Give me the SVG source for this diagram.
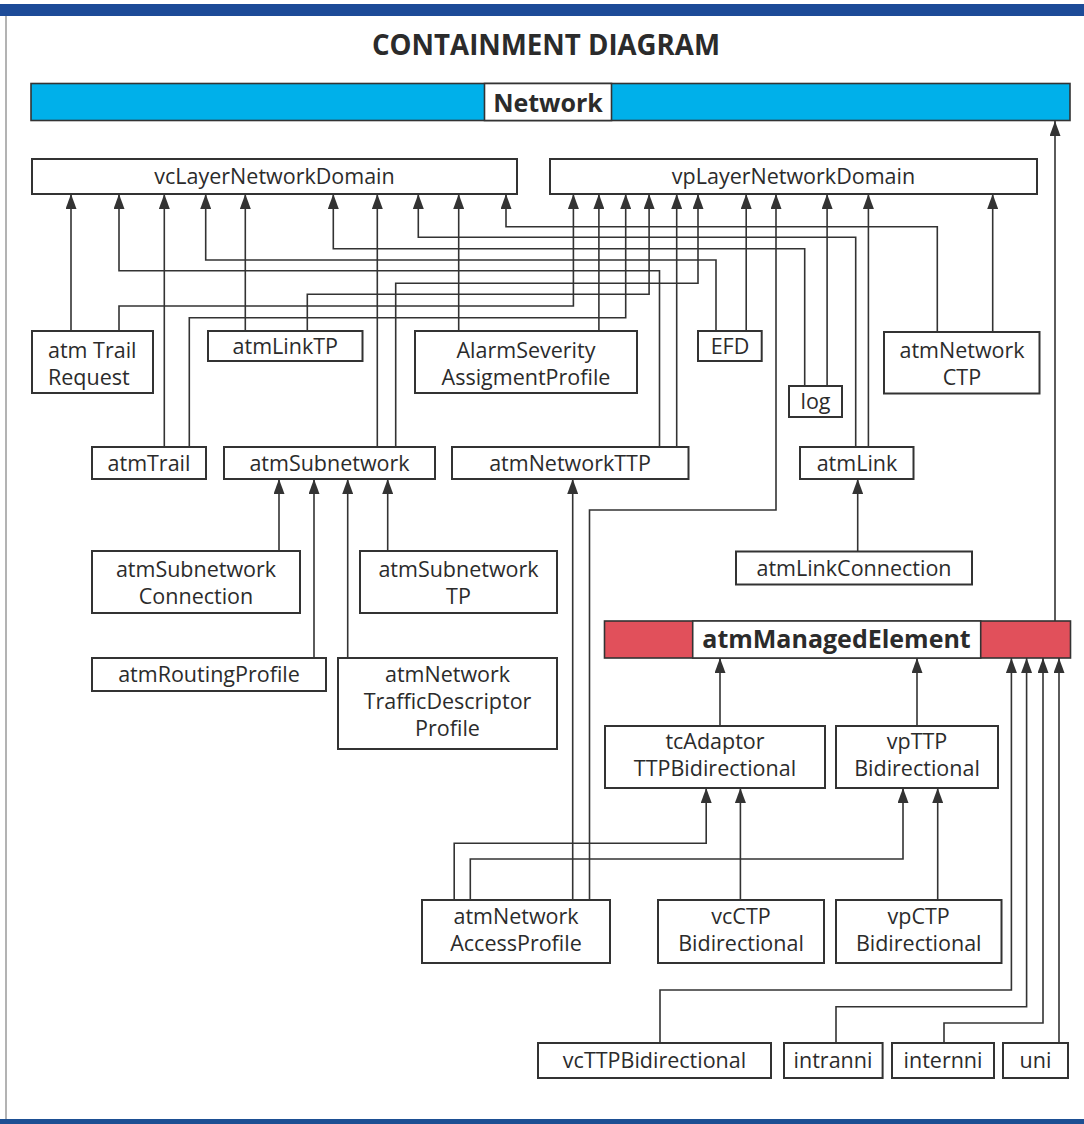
<svg xmlns="http://www.w3.org/2000/svg" width="1084" height="1124" viewBox="0 0 1084 1124">
<defs>
<style>
.box{fill:#fff;stroke:#333;stroke-width:2}
.t{font-family:"Open Sans","Noto Sans","Liberation Sans",sans-serif;font-size:21.5px;fill:#2b2b2b;text-anchor:middle}
.tl{text-anchor:start}
.b{font-weight:bold;font-size:25px}
.c{fill:none;stroke:#333;stroke-width:1.6;marker-end:url(#arr)}
.blue{fill:#00b0ea;stroke:#333;stroke-width:1.6}
.red{fill:#e1505b;stroke:#333;stroke-width:1.6}
</style>
<marker id="arr" viewBox="0 0 15 11" refX="15" refY="5.5" markerWidth="15" markerHeight="11" markerUnits="userSpaceOnUse" orient="auto">
<path d="M0,0 L15,5.5 L0,11 z" fill="#333"/>
</marker>
</defs>
<rect x="0" y="0" width="1084" height="1124" fill="#fff"/>
<rect x="0" y="4" width="1084" height="12" fill="#1d4b98"/>
<rect x="0" y="1119" width="1084" height="5" fill="#1d4f93"/>
<line x1="6" y1="16" x2="6" y2="1119" stroke="#9a9a9a" stroke-width="1.5"/>
<text x="546" y="54.5" class="t b" style="font-size:28px" textLength="348" lengthAdjust="spacingAndGlyphs">CONTAINMENT DIAGRAM</text>

<g id="connectors">
<path class="c" d="M1055,621 V121"/>
<path class="c" d="M71,331 V194"/>
<path class="c" d="M659.5,447 V270.7 H119 V194"/>
<path class="c" d="M164.3,447 V194"/>
<path class="c" d="M716,331 V260 H205.7 V194"/>
<path class="c" d="M245.3,331 V194"/>
<path class="c" d="M804.7,386 V248.7 H333.3 V194"/>
<path class="c" d="M377.3,447 V194"/>
<path class="c" d="M855.7,447 V237.3 H418.3 V194"/>
<path class="c" d="M458.7,331 V194"/>
<path class="c" d="M937.3,332 V226.7 H506 V194"/>
<path class="c" d="M119,331 V306 H573.4 V194"/>
<path class="c" d="M598.9,331 V194"/>
<path class="c" d="M189.3,447 V317.7 H625.7 V194"/>
<path class="c" d="M307.3,331 V294.3 H649.1 V194"/>
<path class="c" d="M676.7,447 V194"/>
<path class="c" d="M395.7,447 V283.3 H698 V194"/>
<path class="c" d="M746.2,331 V194"/>
<path class="c" d="M589.5,900 V510 H776 V194"/>
<path class="c" d="M827.1,386 V194"/>
<path class="c" d="M868.4,447 V194"/>
<path class="c" d="M992.7,332 V194"/>
<path class="c" d="M279,551 V479"/>
<path class="c" d="M314,658 V479"/>
<path class="c" d="M347.7,658 V479"/>
<path class="c" d="M387.7,551 V479"/>
<path class="c" d="M572.7,900 V479"/>
<path class="c" d="M857.7,551.5 V479"/>
<path class="c" d="M720,726 V658"/>
<path class="c" d="M917,726 V658"/>
<path class="c" d="M660,1043 V990 H1011.4 V658"/>
<path class="c" d="M836,1043 V1006.7 H1026.6 V658"/>
<path class="c" d="M944,1043 V1023 H1043 V658"/>
<path class="c" d="M1059,1043 V658"/>
<path class="c" d="M740.4,900 V788"/>
<path class="c" d="M454.2,900 V843.3 H706.2 V788"/>
<path class="c" d="M937.7,900 V788"/>
<path class="c" d="M470.3,900 V859 H903 V788"/>
</g>

<g id="network">
<rect class="blue" x="31" y="83.5" width="1039" height="37"/>
<rect class="box" style="stroke-width:1.6" x="484.5" y="83.5" width="127" height="37"/>
<text class="t b" x="548" y="112">Network</text>
</g>
<g id="vcLayerNetworkDomain">
<rect class="box" x="32" y="159" width="485" height="35"/>
<text class="t" x="274.5" y="184">vcLayerNetworkDomain</text>
</g>
<g id="vpLayerNetworkDomain">
<rect class="box" x="550" y="159" width="487" height="35"/>
<text class="t" x="793.5" y="184">vpLayerNetworkDomain</text>
</g>
<g id="atmTrailRequest">
<rect class="box" x="32" y="331" width="121" height="62"/>
<text class="t tl" x="48" y="358">atm Trail</text>
<text class="t tl" x="48" y="385">Request</text>
</g>
<g id="atmLinkTP">
<rect class="box" x="208" y="331" width="154.5" height="30"/>
<text class="t" x="285.3" y="354">atmLinkTP</text>
</g>
<g id="alarmSeverityAssigmentProfile">
<rect class="box" x="415" y="331" width="222" height="62"/>
<text class="t" x="526" y="358">AlarmSeverity</text>
<text class="t" x="526" y="385">AssigmentProfile</text>
</g>
<g id="efd">
<rect class="box" x="698" y="331" width="63.7" height="30"/>
<text class="t" x="730" y="354">EFD</text>
</g>
<g id="log">
<rect class="box" x="789" y="386" width="53" height="31"/>
<text class="t" x="815.5" y="409">log</text>
</g>
<g id="atmNetworkCTP">
<rect class="box" x="884" y="332" width="155.5" height="61.5"/>
<text class="t" x="962" y="358">atmNetwork</text>
<text class="t" x="962" y="385">CTP</text>
</g>
<g id="atmTrail">
<rect class="box" x="92" y="447" width="114" height="32"/>
<text class="t" x="149" y="470.5">atmTrail</text>
</g>
<g id="atmSubnetwork">
<rect class="box" x="224" y="447" width="211" height="32"/>
<text class="t" x="329.5" y="470.5">atmSubnetwork</text>
</g>
<g id="atmNetworkTTP">
<rect class="box" x="452" y="447" width="236.5" height="32"/>
<text class="t" x="570" y="470.5">atmNetworkTTP</text>
</g>
<g id="atmLink">
<rect class="box" x="800" y="447" width="113.5" height="32"/>
<text class="t" x="857" y="470.5">atmLink</text>
</g>
<g id="atmSubnetworkConnection">
<rect class="box" x="92" y="551" width="208" height="62"/>
<text class="t" x="196" y="577">atmSubnetwork</text>
<text class="t" x="196" y="604">Connection</text>
</g>
<g id="atmSubnetworkTP">
<rect class="box" x="360" y="551" width="197" height="62"/>
<text class="t" x="458.5" y="577">atmSubnetwork</text>
<text class="t" x="458.5" y="604">TP</text>
</g>
<g id="atmLinkConnection">
<rect class="box" x="736" y="551.5" width="236" height="33"/>
<text class="t" x="854" y="575.5">atmLinkConnection</text>
</g>
<g id="atmRoutingProfile">
<rect class="box" x="92" y="658" width="234" height="33"/>
<text class="t" x="209" y="682">atmRoutingProfile</text>
</g>
<g id="atmNetworkTrafficDescriptorProfile">
<rect class="box" x="338" y="658" width="219" height="91"/>
<text class="t" x="447.5" y="682">atmNetwork</text>
<text class="t" x="447.5" y="709">TrafficDescriptor</text>
<text class="t" x="447.5" y="736">Profile</text>
</g>
<g id="atmManagedElement">
<rect class="red" x="604.5" y="621" width="466" height="37"/>
<rect class="box" style="stroke-width:1.6" x="692.7" y="621" width="288" height="37"/>
<text class="t b" x="836.5" y="647.5">atmManagedElement</text>
</g>
<g id="tcAdaptorTTPBidirectional">
<rect class="box" x="605" y="726" width="220" height="62"/>
<text class="t" x="715" y="749">tcAdaptor</text>
<text class="t" x="715" y="776">TTPBidirectional</text>
</g>
<g id="vpTTPBidirectional">
<rect class="box" x="836" y="726" width="162" height="62"/>
<text class="t" x="917" y="749">vpTTP</text>
<text class="t" x="917" y="776">Bidirectional</text>
</g>
<g id="atmNetworkAccessProfile">
<rect class="box" x="422" y="900" width="188" height="63"/>
<text class="t" x="516" y="924">atmNetwork</text>
<text class="t" x="516" y="951">AccessProfile</text>
</g>
<g id="vcCTPBidirectional">
<rect class="box" x="658" y="900" width="166" height="63"/>
<text class="t" x="741" y="924">vcCTP</text>
<text class="t" x="741" y="951">Bidirectional</text>
</g>
<g id="vpCTPBidirectional">
<rect class="box" x="836" y="900" width="165.5" height="63"/>
<text class="t" x="918.7" y="924">vpCTP</text>
<text class="t" x="918.7" y="951">Bidirectional</text>
</g>
<g id="vcTTPBidirectional">
<rect class="box" x="538" y="1043" width="233" height="35"/>
<text class="t" x="654.5" y="1068">vcTTPBidirectional</text>
</g>
<g id="intranni">
<rect class="box" x="784" y="1043" width="98.6" height="35"/>
<text class="t" x="833" y="1068">intranni</text>
</g>
<g id="internni">
<rect class="box" x="892" y="1043" width="102" height="35"/>
<text class="t" x="943" y="1068">internni</text>
</g>
<g id="uni">
<rect class="box" x="1003" y="1043" width="65" height="35"/>
<text class="t" x="1035.5" y="1068">uni</text>
</g>
</svg>
